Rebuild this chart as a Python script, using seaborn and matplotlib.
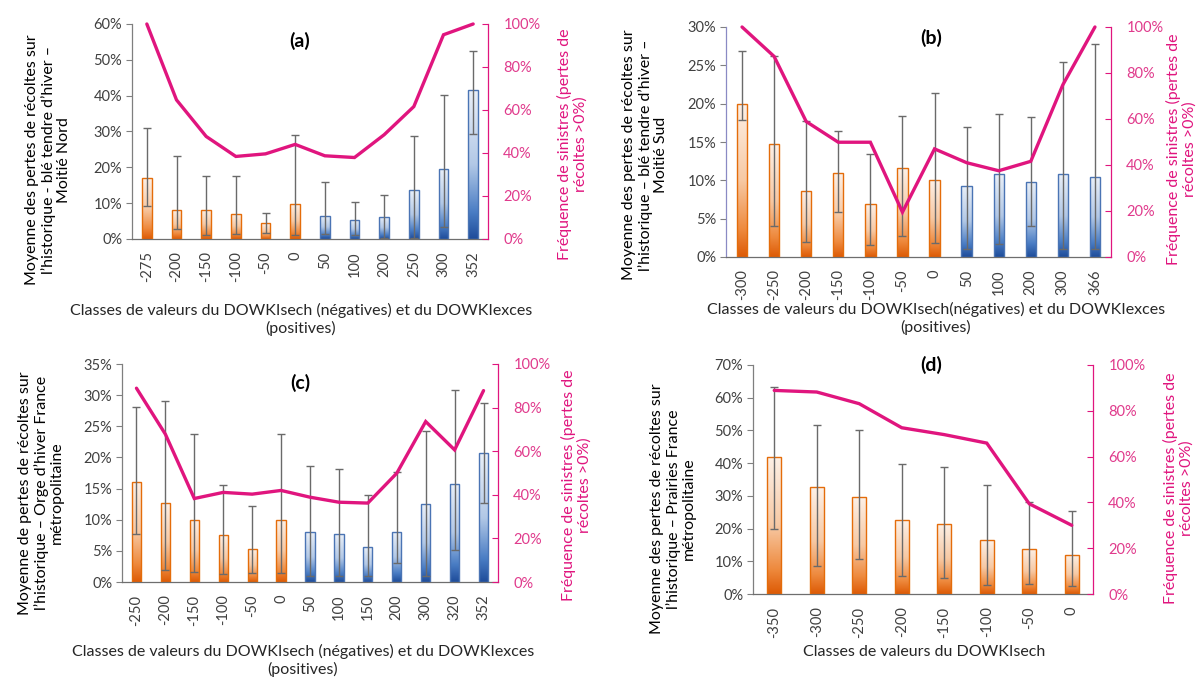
import numpy as np
import pandas as pd
import matplotlib
matplotlib.use("Agg")
import matplotlib.pyplot as plt
from matplotlib.colors import LinearSegmentedColormap
from matplotlib.ticker import PercentFormatter, MultipleLocator
import seaborn as sns

# ---------------------------------------------------------------- data
# (a) blé tendre d'hiver – Moitié Nord
classes_a = [-275, -200, -150, -100, -50, 0, 50, 100, 200, 250, 300, 352]
mean_a = [17.0, 8.1, 8.1, 7.0, 4.4, 9.8, 6.5, 5.4, 6.2, 13.6, 19.6, 41.5]
high_a = [31.0, 23.3, 17.6, 17.6, 7.2, 29.1, 15.9, 10.3, 12.3, 28.7, 40.3, 52.6]
low_a = [9.3, 2.9, 1.0, 1.5, 1.6, 1.2, 1.4, 1.2, 0.3, 0.3, 3.3, 29.3]
freq_a = [100, 64.7, 47.7, 38.4, 39.6, 44.0, 38.7, 37.9, 48.5, 61.6, 95.0, 100]

# (b) blé tendre d'hiver – Moitié Sud
classes_b = [-300, -250, -200, -150, -100, -50, 0, 50, 100, 200, 300, 366]
mean_b = [20.0, 14.7, 8.6, 10.9, 6.9, 11.6, 10.1, 9.3, 10.8, 9.8, 10.8, 10.4]
high_b = [26.9, 26.2, 17.7, 16.4, 13.4, 18.4, 21.4, 17.0, 18.7, 18.2, 25.5, 27.8]
low_b = [17.9, 4.1, 2.0, 5.9, 1.6, 2.8, 1.8, 1.1, 1.7, 4.1, 1.1, 1.1]
freq_b = [100, 87.2, 58.9, 49.9, 49.9, 19.5, 47.0, 41.0, 37.5, 41.6, 74.9, 100]

# (c) Orge d'hiver France métropolitaine
classes_c = [-250, -200, -150, -100, -50, 0, 50, 100, 150, 200, 300, 320, 352]
mean_c = [16.1, 12.7, 10.0, 7.5, 5.3, 10.0, 8.0, 7.7, 5.6, 8.0, 12.5, 15.8, 20.7]
high_c = [28.1, 29.0, 23.7, 15.6, 12.2, 23.8, 18.6, 18.2, 13.9, 17.6, 24.3, 30.8, 28.7]
low_c = [7.7, 2.0, 1.6, 1.3, 1.4, 1.4, 1.0, 1.0, 1.0, 3.0, 1.0, 5.1, 12.7]
freq_c = [88.9, 67.8, 38.3, 41.1, 40.3, 42.0, 38.9, 36.6, 36.2, 49.9, 73.6, 60.6, 87.8]

# (d) Prairies France métropolitaine
classes_d = [-350, -300, -250, -200, -150, -100, -50, 0]
mean_d = [41.9, 32.6, 29.7, 22.5, 21.4, 16.5, 13.8, 12.0]
high_d = [63.2, 51.6, 50.2, 39.6, 38.7, 33.2, 28.1, 25.3]
low_d = [20.0, 8.5, 10.7, 5.4, 4.9, 2.9, 3.1, 2.3]
freq_d = [88.9, 88.2, 83.1, 72.6, 69.6, 65.9, 39.4, 30.0]

XLAB_FULL = "Classes de valeurs du DOWKIsech (négatives) et du DOWKIexces\n(positives)"
XLAB_B = "Classes de valeurs du DOWKIsech(négatives) et du DOWKIexces\n(positives)"
XLAB_D = "Classes de valeurs du DOWKIsech"
YLAB_A = "Moyenne des pertes de récoltes sur\nl’historique - blé tendre d’hiver –\nMoitié Nord"
YLAB_B = "Moyenne des pertes de récoltes sur\nl’historique – blé tendre d’hiver –\nMoitié Sud"
YLAB_C = "Moyenne de pertes de récoltes sur\nl’historique – Orge d’hiver France\nmétropolitaine"
YLAB_D = "Moyenne des pertes de récoltes sur\nl’historique – Prairies France\nmétropolitaine"
RLAB = "Fréquence de sinistres (pertes de\nrécoltes >0%)"

# ---------------------------------------------------------------- style
W, H = 1201, 684
sns.set_theme(style="white")
plt.rcParams["font.family"] = ["Lato", "DejaVu Sans"]

PINK = "#E0157E"
PINK_TXT = "#E03A8C"
TXT = "#404040"
ORANGE_EDGE = "#E46C0A"
BLUE_EDGE = "#4A74B4"

orange_cmap = LinearSegmentedColormap.from_list(
    "orange_grad", [(0, "#DD5A05"), (0.18, "#EE8A3E"), (0.5, "#F7C9A4"), (1, "#FDF1E8")])
blue_cmap = LinearSegmentedColormap.from_list(
    "blue_grad", [(0, "#1E4C9A"), (0.18, "#4A7DC4"), (0.5, "#B2C8E6"), (1, "#EAF0F8")])
grad = np.linspace(0, 1, 256).reshape(-1, 1)

fig = plt.figure(figsize=(W / 100, H / 100), dpi=100)
fig.patch.set_facecolor("white")


def px_axes(left, top, right, bottom):
    return fig.add_axes([left / W, 1 - bottom / H, (right - left) / W, (bottom - top) / H])


def px_text(x, y, s, **kw):
    fig.text(x / W, 1 - y / H, s, **kw)


def panel(rect, classes, mean, high, low, freq, ymax, ystep, left_color,
          title, title_xy, ylab, ylab_xy, xlab, xlab_xy, rlab_xy):
    ax = px_axes(*rect)
    df = pd.DataFrame({"classe": [str(c) for c in classes], "perte": mean})
    sns.barplot(data=df, x="classe", y="perte", ax=ax, width=0.32,
                color="white", saturation=1, errorbar=None)
    xl = ax.get_xlim()

    xs = []
    for patch, c in zip(ax.patches, classes):
        x0, w, h = patch.get_x(), patch.get_width(), patch.get_height()
        xs.append(x0 + w / 2)
        neg = c <= 0
        patch.set_facecolor("none")
        patch.set_edgecolor(ORANGE_EDGE if neg else BLUE_EDGE)
        patch.set_linewidth(1.0)
        patch.set_zorder(3)
        img = ax.imshow(grad, extent=[x0, x0 + w, 0, h], aspect="auto", origin="lower",
                        cmap=orange_cmap if neg else blue_cmap, zorder=2,
                        interpolation="bilinear")
        img.set_clip_path(patch)

    mean = np.asarray(mean)
    ax.errorbar(xs, mean, yerr=[mean - np.asarray(low), np.asarray(high) - mean],
                fmt="none", ecolor="#6A6A6A", elinewidth=1.0, capsize=2.6,
                capthick=1.0, zorder=4)

    ax.set_xlim(xl)
    ax.set_ylim(0, ymax)
    ax.yaxis.set_major_locator(MultipleLocator(ystep))
    ax.yaxis.set_major_formatter(PercentFormatter(100, decimals=0))
    ax.set_xlabel("")
    ax.set_ylabel("")
    ax.tick_params(axis="y", left=True, direction="out", length=4, width=0.8,
                   color="#808080", labelcolor=TXT, labelsize=10.5, pad=3)
    ax.tick_params(axis="x", bottom=False, length=0, labelcolor=TXT, labelsize=10.5,
                   labelrotation=90, pad=9)
    for s in ("top", "right"):
        ax.spines[s].set_visible(False)
    ax.spines["left"].set_color(left_color)
    ax.spines["left"].set_linewidth(0.9)
    ax.spines["bottom"].set_color("#6E6E6E")
    ax.spines["bottom"].set_linewidth(0.9)
    ax.grid(False)

    ax2 = ax.twinx()
    sns.lineplot(x=xs, y=freq, ax=ax2, color=PINK, linewidth=2.4, clip_on=False,
                 solid_joinstyle="miter")
    ax2.set_ylim(0, 100)
    ax2.set_xlim(xl)
    ax2.yaxis.set_major_locator(MultipleLocator(20))
    ax2.yaxis.set_major_formatter(PercentFormatter(100, decimals=0))
    ax2.tick_params(axis="y", right=True, direction="in", length=4, width=0.8,
                    color=PINK, labelcolor=PINK_TXT, labelsize=10.5, pad=11)
    for s in ("top", "left", "bottom"):
        ax2.spines[s].set_visible(False)
    ax2.spines["right"].set_color(PINK)
    ax2.spines["right"].set_linewidth(0.9)
    ax2.grid(False)

    px_text(*title_xy, title, ha="center", va="center", fontsize=14,
            fontweight="bold", color="black")
    px_text(*ylab_xy, ylab, ha="center", va="center", rotation=90, fontsize=11.5,
            color="black", linespacing=1.15)
    px_text(*xlab_xy, xlab, ha="center", va="top", fontsize=11.5, color="#262626",
            linespacing=1.2)
    px_text(*rlab_xy, RLAB, ha="center", va="center", rotation=90, fontsize=11.5,
            color=PINK, linespacing=1.15)


panel((132, 24, 488, 239), classes_a, mean_a, high_a, low_a, freq_a, 60, 10, "#7F7F7F",
      "(a)", (300, 41), YLAB_A, (48, 160), XLAB_FULL, (301, 303), (572, 144))
panel((726, 27, 1111, 257), classes_b, mean_b, high_b, low_b, freq_b, 30, 5, "#8A8AC4",
      "(b)", (931, 38), YLAB_B, (645, 155), XLAB_B, (936, 302), (1181, 149))
panel((122, 364, 498, 582), classes_c, mean_c, high_c, low_c, freq_c, 35, 5, "#7F7F7F",
      "(c)", (300, 383), YLAB_C, (41, 493), XLAB_FULL, (303, 644), (576, 485))
panel((753, 365, 1093, 594), classes_d, mean_d, high_d, low_d, freq_d, 70, 10, "#7F7F7F",
      "(d)", (931, 365), YLAB_D, (673, 509), XLAB_D, (924, 645), (1178, 488))

fig.savefig("out.png", dpi=100, facecolor="white")
